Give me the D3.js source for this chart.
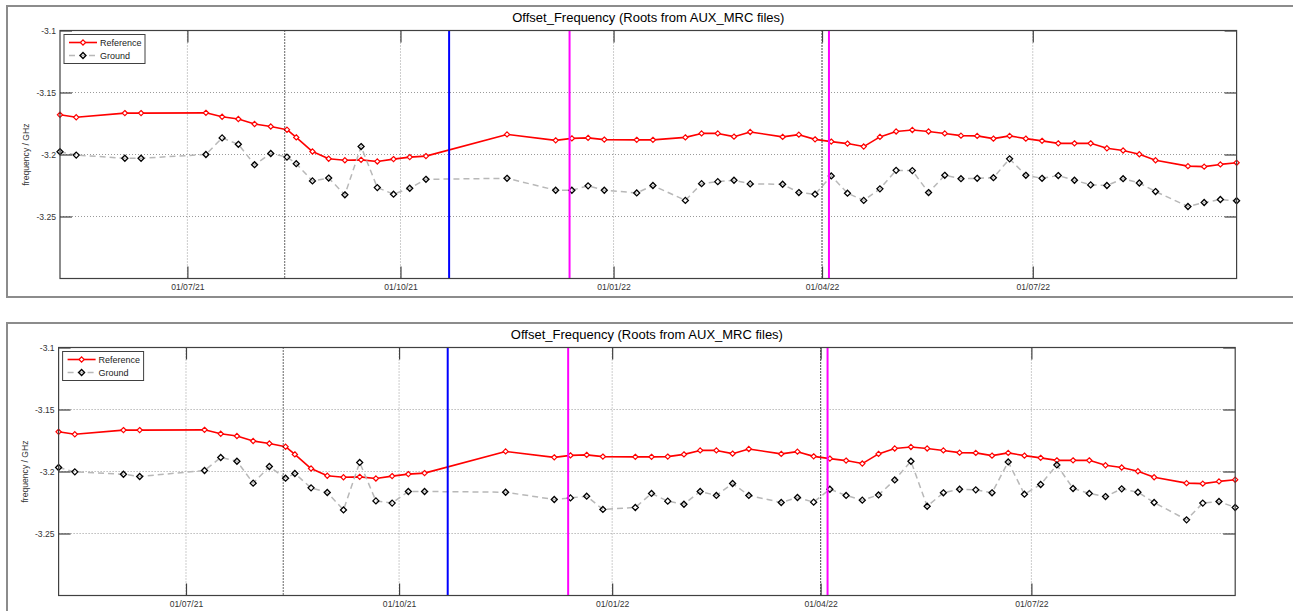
<!DOCTYPE html>
<html>
<head>
<meta charset="utf-8">
<script src="https://cdn.jsdelivr.net/npm/d3@7"></script>
<style>
  html, body { margin: 0; padding: 0; background: #fff; overflow: hidden; }
  svg { display: block; font-family: "Liberation Sans", Arial, Helvetica, sans-serif; }
</style>
</head>
<body>
<svg id="chart" width="1293" height="611"></svg>
<script>
// ---- data ----------------------------------------------------------------
const chartTitle = "Offset_Frequency (Roots from AUX_MRC files)";
const yAxisLabel = "frequency / GHz";
const seriesNames = ["Reference", "Ground"];

const dates = [
  "2021-05-07","2021-05-14","2021-06-04","2021-06-11","2021-07-09","2021-07-16","2021-07-23","2021-07-30","2021-08-06","2021-08-13",
  "2021-08-17","2021-08-24","2021-08-31","2021-09-07","2021-09-14","2021-09-21","2021-09-28","2021-10-05","2021-10-12","2021-11-16",
  "2021-12-07","2021-12-14","2021-12-21","2021-12-28","2022-01-11","2022-01-18","2022-01-25","2022-02-01","2022-02-08","2022-02-15",
  "2022-02-22","2022-03-01","2022-03-15","2022-03-22","2022-03-29","2022-04-05","2022-04-12","2022-04-19","2022-04-26","2022-05-03",
  "2022-05-10","2022-05-17","2022-05-24","2022-05-31","2022-06-07","2022-06-14","2022-06-21","2022-06-28","2022-07-05","2022-07-12",
  "2022-07-19","2022-07-26","2022-08-02","2022-08-09","2022-08-16","2022-08-23","2022-09-06","2022-09-13","2022-09-20","2022-09-27"
];

// upper panel (no reading on 2022-01-25)
const referenceTop = [
  -3.1680,-3.1700,-3.1666,-3.1666,-3.1664,-3.1696,-3.1714,-3.1754,-3.1774,-3.1800,
  -3.1862,-3.1976,-3.2034,-3.2046,-3.2043,-3.2056,-3.2037,-3.2021,-3.2013,-3.1838,
  -3.1886,-3.1870,-3.1866,-3.1880,-3.1882,-3.1882,null,-3.1862,-3.1830,-3.1830,
  -3.1856,-3.1818,-3.1858,-3.1840,-3.1878,-3.1896,-3.1912,-3.1936,-3.1858,-3.1814,
  -3.1802,-3.1814,-3.1830,-3.1848,-3.1850,-3.1872,-3.1850,-3.1872,-3.1890,-3.1910,
  -3.1910,-3.1910,-3.1950,-3.1968,-3.1998,-3.2046,-3.2094,-3.2098,-3.2080,-3.2066
];
const groundTop = [
  -3.1978,-3.2005,-3.2030,-3.2030,-3.2000,-3.1866,-3.1918,-3.2082,-3.1992,-3.2021,
  -3.2074,-3.2213,-3.2190,-3.2325,-3.1936,-3.2267,-3.2320,-3.2272,-3.2200,-3.2192,
  -3.2288,-3.2288,-3.2253,-3.2288,-3.2310,-3.2250,null,-3.2370,-3.2235,-3.2219,
  -3.2208,-3.2237,-3.2240,-3.2307,-3.2320,-3.2173,-3.2312,-3.2370,-3.2277,-3.2128,
  -3.2130,-3.2307,-3.2168,-3.2195,-3.2192,-3.2187,-3.2035,-3.2168,-3.2192,-3.2170,
  -3.2208,-3.2245,-3.2250,-3.2195,-3.2230,-3.2299,-3.2419,-3.2387,-3.2363,-3.2373
];

// lower panel
const referenceBottom = [
  -3.1680,-3.1700,-3.1666,-3.1666,-3.1664,-3.1696,-3.1714,-3.1754,-3.1774,-3.1800,
  -3.1862,-3.1976,-3.2034,-3.2046,-3.2043,-3.2056,-3.2037,-3.2021,-3.2013,-3.1838,
  -3.1886,-3.1870,-3.1866,-3.1880,-3.1882,-3.1882,-3.1880,-3.1862,-3.1830,-3.1830,
  -3.1856,-3.1818,-3.1858,-3.1840,-3.1878,-3.1896,-3.1912,-3.1936,-3.1858,-3.1814,
  -3.1802,-3.1814,-3.1830,-3.1848,-3.1850,-3.1872,-3.1850,-3.1872,-3.1890,-3.1910,
  -3.1910,-3.1910,-3.1950,-3.1968,-3.1998,-3.2046,-3.2094,-3.2098,-3.2080,-3.2066
];
const groundBottom = [
  -3.1968,-3.2003,-3.2022,-3.2040,-3.1992,-3.1887,-3.1917,-3.2094,-3.1960,-3.2054,
  -3.2016,-3.2132,-3.2169,-3.2310,-3.1927,-3.2237,-3.2255,-3.2161,-3.2161,-3.2167,
  -3.2226,-3.2213,-3.2199,-3.2306,-3.2290,-3.2177,-3.2239,-3.2264,-3.2161,-3.2193,
  -3.2097,-3.2193,-3.2250,-3.2210,-3.2247,-3.2143,-3.2193,-3.2231,-3.2189,-3.2068,
  -3.1917,-3.2280,-3.2172,-3.2143,-3.2148,-3.2172,-3.1923,-3.2183,-3.2105,-3.1947,
  -3.2137,-3.2177,-3.2202,-3.2140,-3.2167,-3.2250,-3.2390,-3.2255,-3.2242,-3.2290
];

const yLimits = [-3.3, -3.1];
const yTickValues = [-3.1, -3.15, -3.2, -3.25];
const xTickDates = ["2021-07-01","2021-10-01","2022-01-01","2022-04-01","2022-07-01"];

// vertical event markers
const eventDates = ["2021-08-12","2021-10-22","2021-12-13","2022-04-01","2022-04-04"];
const eventKinds = ["note","blue","magenta","note","magenta"];

// ---- styles --------------------------------------------------------------
const eventStyle = {
  note:    { stroke: "#000000", width: 1.2, dash: "1,2" },
  blue:    { stroke: "#0000ff", width: 2,   dash: null },
  magenta: { stroke: "#ff00ff", width: 2,   dash: null }
};
const refStyle = { stroke: "#ff0000", width: 1.6, marker: 2.6, markerStroke: 1.2 };
const gndStyle = { stroke: "#b8b8b8", width: 1.5, dash: "6,4", marker: 3, markerStroke: 1.3 };

const parse = d3.utcParse("%Y-%m-%d");
const fmt = d3.utcFormat("%d/%m/%y");
const diamond = r => `M0,${-r}L${r},0L0,${r}L${-r},0Z`;

const svg = d3.select("#chart");

function drawPanel(frameTop, left, top, reference, ground) {
  const width = 1176.6, height = 248;

  svg.append("rect")
    .attr("x", 7).attr("y", frameTop)
    .attr("width", 1300).attr("height", 291)
    .attr("fill", "#fff").attr("stroke", "#8c8c8c").attr("stroke-width", 2);

  const x = d3.scaleUtc().domain(d3.extent(dates, parse)).range([0, width]);
  const y = d3.scaleLinear().domain(yLimits).range([height, 0]);

  const g = svg.append("g").attr("transform", `translate(${left},${top})`);

  g.append("rect").attr("width", width).attr("height", height).attr("fill", "#fff");

  // dotted grid
  const xt = xTickDates.map(parse);
  g.append("g").attr("class", "grid")
    .selectAll("line").data(xt).join("line")
    .attr("x1", d => x(d)).attr("x2", d => x(d))
    .attr("y1", 0).attr("y2", height);
  g.append("g").attr("class", "grid")
    .selectAll("line").data(yTickValues.filter(v => v > yLimits[0] && v < yLimits[1])).join("line")
    .attr("x1", 0).attr("x2", width)
    .attr("y1", d => y(d)).attr("y2", d => y(d));
  g.selectAll(".grid line")
    .attr("stroke", "#9a9a9a").attr("stroke-width", 1).attr("stroke-dasharray", "1,2");

  // series
  const refPts = dates.map((d, i) => ({ date: parse(d), value: reference[i] })).filter(p => p.value != null);
  const gndPts = dates.map((d, i) => ({ date: parse(d), value: ground[i] })).filter(p => p.value != null);
  const line = d3.line().x(p => x(p.date)).y(p => y(p.value));

  g.append("path").datum(refPts).attr("d", line)
    .attr("fill", "none").attr("stroke", refStyle.stroke).attr("stroke-width", refStyle.width)
    .attr("stroke-linejoin", "round");
  g.append("g").selectAll("path").data(refPts).join("path")
    .attr("transform", p => `translate(${x(p.date)},${y(p.value)})`)
    .attr("d", diamond(refStyle.marker))
    .attr("fill", "#fff").attr("stroke", refStyle.stroke).attr("stroke-width", refStyle.markerStroke);

  g.append("path").datum(gndPts).attr("d", line)
    .attr("fill", "none").attr("stroke", gndStyle.stroke).attr("stroke-width", gndStyle.width)
    .attr("stroke-dasharray", gndStyle.dash);
  g.append("g").selectAll("path").data(gndPts).join("path")
    .attr("transform", p => `translate(${x(p.date)},${y(p.value)})`)
    .attr("d", diamond(gndStyle.marker))
    .attr("fill", "none").attr("stroke", "#000").attr("stroke-width", gndStyle.markerStroke);

  // event lines
  g.append("g").selectAll("line").data(eventDates.map((d, i) => ({ date: parse(d), kind: eventKinds[i] })))
    .join("line")
    .attr("x1", e => x(e.date)).attr("x2", e => x(e.date))
    .attr("y1", 0).attr("y2", height)
    .attr("stroke", e => eventStyle[e.kind].stroke)
    .attr("stroke-width", e => eventStyle[e.kind].width)
    .attr("stroke-dasharray", e => eventStyle[e.kind].dash);

  // axes (inward ticks on all four sides)
  const tickColor = "#404040";
  const axes = [
    g.append("g").attr("transform", `translate(0,${height})`)
      .call(d3.axisBottom(x).tickValues(xt).tickFormat(fmt).tickSize(-12).tickPadding(5)),
    g.append("g")
      .call(d3.axisTop(x).tickValues(xt).tickFormat("").tickSize(-12)),
    g.append("g")
      .call(d3.axisLeft(y).tickValues(yTickValues).tickFormat(d => String(d)).tickSize(-12).tickPadding(4)),
    g.append("g").attr("transform", `translate(${width},0)`)
      .call(d3.axisRight(y).tickValues(yTickValues).tickFormat("").tickSize(-12))
  ];
  axes.forEach(a => {
    a.select(".domain").remove();
    a.selectAll(".tick line").attr("stroke", tickColor).attr("stroke-width", 1.2);
    a.selectAll(".tick text").attr("fill", "#333").attr("font-size", 8.6)
      .attr("font-family", '"Liberation Sans", Arial, sans-serif');
  });

  g.append("rect").attr("width", width).attr("height", height)
    .attr("fill", "none").attr("stroke", tickColor).attr("stroke-width", 1.2);

  // title and y label
  svg.append("text")
    .attr("x", left + width / 2).attr("y", top - 8.5)
    .attr("text-anchor", "middle").attr("font-size", 13).attr("fill", "#000")
    .text(chartTitle);
  svg.append("text")
    .attr("transform", `translate(${left - 31},${top + height / 2}) rotate(-90)`)
    .attr("text-anchor", "middle").attr("font-size", 8.6).attr("fill", "#333")
    .text(yAxisLabel);

  // legend
  const lg = g.append("g").attr("transform", "translate(4,4)");
  lg.append("rect").attr("width", 81).attr("height", 29)
    .attr("fill", "#fff").attr("stroke", tickColor).attr("stroke-width", 1);
  const rows = [
    { name: seriesNames[0], style: refStyle, mStroke: refStyle.stroke, mFill: "#fff", dash: null },
    { name: seriesNames[1], style: gndStyle, mStroke: "#000", mFill: "none", dash: gndStyle.dash }
  ];
  rows.forEach((r, i) => {
    const ry = 8 + i * 13;
    lg.append("line").attr("x1", 5).attr("x2", 33).attr("y1", ry).attr("y2", ry)
      .attr("stroke", r.style.stroke).attr("stroke-width", r.style.width)
      .attr("stroke-dasharray", r.dash);
    lg.append("path").attr("transform", `translate(19,${ry})`)
      .attr("d", diamond(r.style.marker))
      .attr("fill", r.mFill).attr("stroke", r.mStroke).attr("stroke-width", r.style.markerStroke);
    lg.append("text").attr("x", 36).attr("y", ry).attr("dy", "0.35em")
      .attr("font-size", 9).attr("fill", "#222").text(r.name);
  });
}

drawPanel(6, 60, 30.5, referenceTop, groundTop);
drawPanel(323, 58.6, 347.5, referenceBottom, groundBottom);
</script>
</body>
</html>
